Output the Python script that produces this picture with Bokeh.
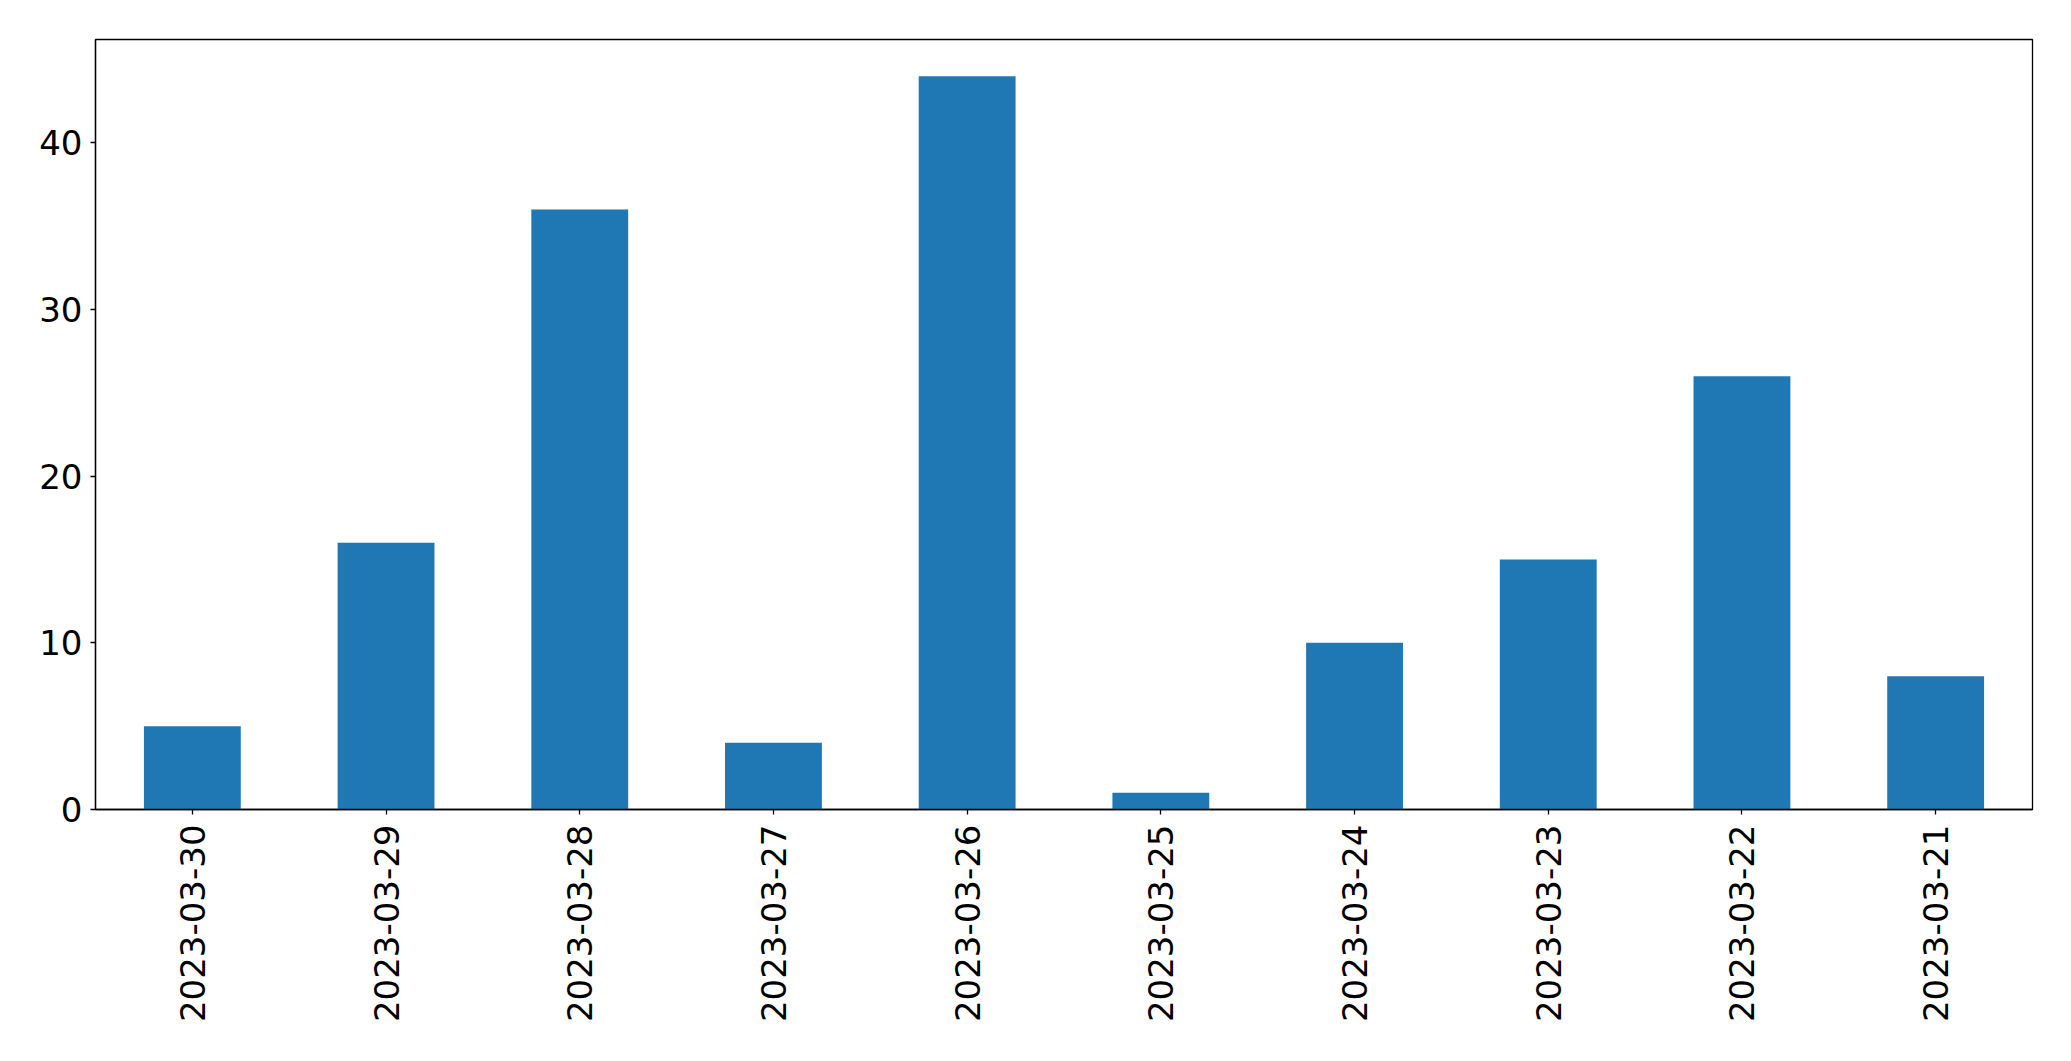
import math
from bokeh.plotting import figure
from bokeh.models import Range1d, FactorRange, FixedTicker, ColumnDataSource
from bokeh.embed import file_html
from bokeh.resources import INLINE

dates = ["2023-03-30", "2023-03-29", "2023-03-28", "2023-03-27", "2023-03-26",
         "2023-03-25", "2023-03-24", "2023-03-23", "2023-03-22", "2023-03-21"]
counts = [5, 16, 36, 4, 44, 1, 10, 15, 26, 8]
y_ticks = [0, 10, 20, 30, 40]

source = ColumnDataSource(data=dict(dates=dates, counts=counts))

p = figure(
    x_range=FactorRange(factors=dates),
    y_range=Range1d(0, max(counts) * 1.05),
    width=2063, height=1053,
    min_border_left=95, min_border_right=31, min_border_top=39, min_border_bottom=244,
    output_backend="svg", toolbar_location=None,
)

p.vbar(x="dates", top="counts", width=0.5, source=source,
       fill_color="#1f77b4", line_color=None)

p.xgrid.grid_line_color = None
p.ygrid.grid_line_color = None
p.outline_line_color = "black"
p.outline_line_width = 1.3
p.outline_line_alpha = 1.0

for ax in (p.xaxis, p.yaxis):
    ax.axis_line_color = "black"
    ax.axis_line_width = 1.3
    ax.major_tick_line_color = "black"
    ax.major_tick_line_width = 1.3
    ax.major_tick_in = 0
    ax.major_tick_out = 5
    ax.minor_tick_line_color = None
    ax.major_label_text_font = "DejaVu Sans"
    ax.major_label_text_font_size = "34px"
    ax.major_label_text_color = "black"

p.yaxis.ticker = FixedTicker(ticks=y_ticks)
p.yaxis.major_label_standoff = 8
p.xaxis.major_label_orientation = math.pi / 2
p.xaxis.major_label_standoff = 10

open("out.html", "w").write(file_html(p, INLINE))
